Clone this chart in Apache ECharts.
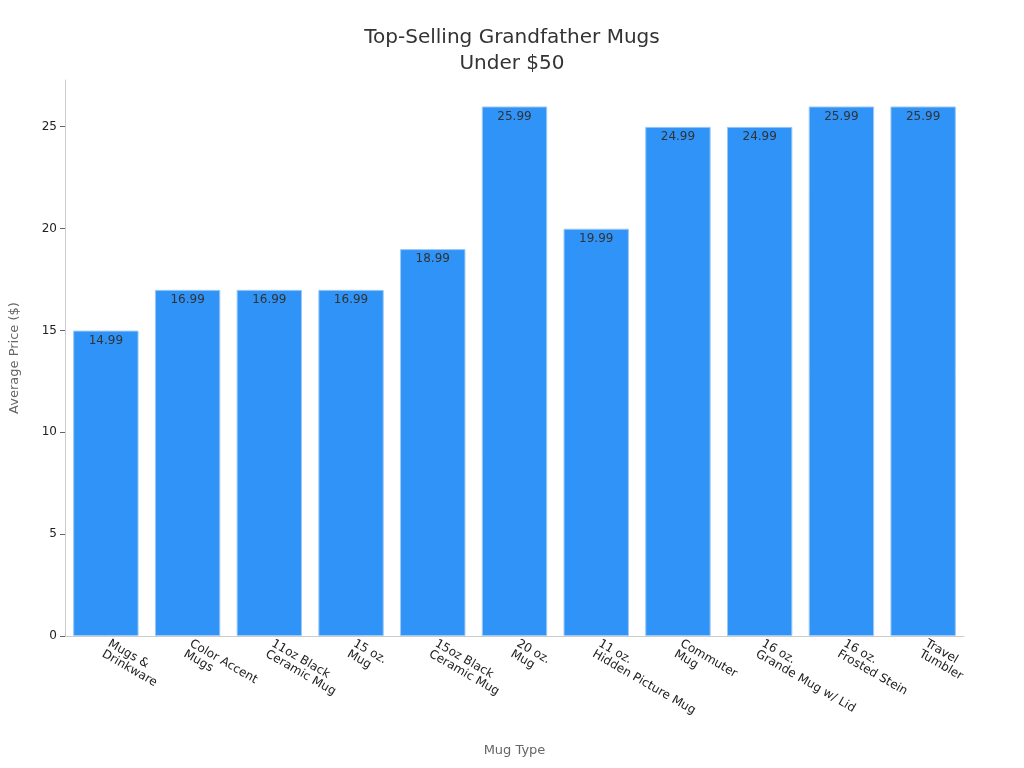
<!DOCTYPE html>
<html>
<head>
<meta charset="utf-8">
<script src="https://cdn.jsdelivr.net/npm/echarts@6/dist/echarts.min.js"></script>
<style>html,body{margin:0;padding:0;background:#fff}#chart{width:1024px;height:768px}</style>
</head>
<body>
<div id="chart"></div>
<script>
const categories = ['Mugs &\nDrinkware', 'Color Accent\nMugs', '11oz Black\nCeramic Mug', '15 oz.\nMug', '15oz Black\nCeramic Mug', '20 oz.\nMug', '11 oz.\nHidden Picture Mug', 'Commuter\nMug', '16 oz.\nGrande Mug w/ Lid', '16 oz.\nFrosted Stein', 'Travel\nTumbler'];
const prices = [14.99, 16.99, 16.99, 16.99, 18.99, 25.99, 19.99, 24.99, 24.99, 25.99, 25.99];
const yTicks = [0, 5, 10, 15, 20, 25];

const chart = echarts.init(document.getElementById('chart'));
chart.setOption({
    animation: false,
    textStyle: {fontFamily: 'DejaVu Sans'},
    title: {
        text: 'Top-Selling Grandfather Mugs\nUnder $50',
        left: 'center',
        top: 20,
        textStyle: {fontSize: 20, fontWeight: 'normal', color: '#333', lineHeight: 26}
    },
    grid: {left: 61, right: 60, top: 80, bottom: 132},
    xAxis: {
        type: 'category',
        data: categories,
        name: 'Mug Type',
        nameLocation: 'middle',
        nameGap: 108,
        nameTextStyle: {color: '#666', fontSize: 13},
        axisLine: {lineStyle: {color: '#ccc'}},
        axisTick: {alignWithLabel: true, lineStyle: {color: '#666'}},
        axisLabel: {rotate: -30, color: '#222', fontSize: 12, interval: 0, margin: 12, align: 'left'}
    },
    yAxis: {
        type: 'value',
        min: 0,
        max: 27.29,
        interval: 5,
        name: 'Average Price ($)',
        nameLocation: 'middle',
        nameGap: 44,
        nameTextStyle: {color: '#666', fontSize: 13},
        splitLine: {show: false},
        axisLine: {show: true, lineStyle: {color: '#ccc'}},
        axisTick: {show: true, lineStyle: {color: '#666'}},
        axisLabel: {
            color: '#222', fontSize: 12, showMaxLabel: false,
            formatter: v => yTicks.includes(v) ? String(v) : ''
        }
    },
    series: [{
        type: 'bar',
        data: prices,
        barCategoryGap: '20%',
        itemStyle: {color: '#2f93f8', borderColor: '#9cc8f5', borderWidth: 1},
        label: {show: true, position: 'insideTop', color: '#333', fontSize: 12, distance: 4}
    }]
});
</script>
</body>
</html>
